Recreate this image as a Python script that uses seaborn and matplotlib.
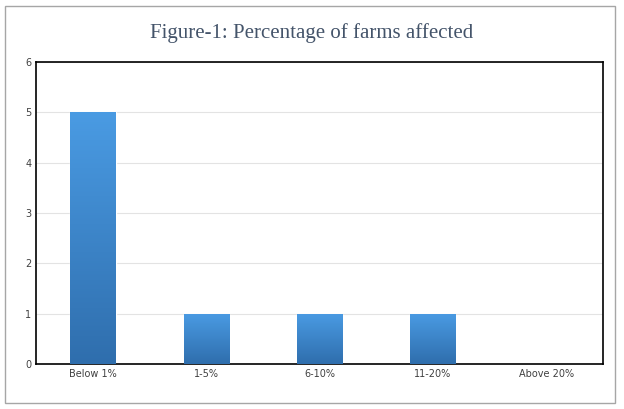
import matplotlib
matplotlib.use("Agg")
import matplotlib.pyplot as plt
import seaborn as sns
import numpy as np
import pandas as pd
from matplotlib.patches import Rectangle

categories = ["Below 1%", "1-5%", "6-10%", "11-20%", "Above 20%"]
farms = [5, 1, 1, 1, 0]

sns.set_style("white")
plt.rcParams['font.family'] = ['DejaVu Sans']

fig = plt.figure(figsize=(6.24, 4.09), dpi=100)
# outer frame
fig.patches.append(Rectangle((0.008, 0.015), 0.978, 0.97, transform=fig.transFigure,
                             fill=False, edgecolor="#a6a6a6", linewidth=1.0))
ax = fig.add_axes([0.058, 0.11, 0.908, 0.738])

df = pd.DataFrame({"cat": categories, "val": farms})
sns.barplot(data=df, x="cat", y="val", ax=ax, width=0.4, color="#3d85c6", zorder=2)

# vertical gradient for bars
grad = np.linspace(0, 1, 256).reshape(-1, 1)
cmap = matplotlib.colors.LinearSegmentedColormap.from_list("b", ["#2f6ead", "#4a9be3"])
for p in ax.patches:
    x0, y0, w, h = p.get_x(), p.get_y(), p.get_width(), p.get_height()
    if h <= 0:
        continue
    im = ax.imshow(grad, extent=[x0, x0 + w, y0, y0 + h], origin="lower",
                   cmap=cmap, aspect="auto", zorder=3)
    im.set_clip_path(p)

ax.set_xlim(-0.5, 4.5)
ax.set_ylim(0, 6)
ax.set_yticks(range(7))
ax.grid(axis="y", color="#e3e3e3", linewidth=0.8, zorder=0)
ax.set_xlabel("")
ax.set_ylabel("")
ax.tick_params(labelsize=7, colors="#404040", length=0)
for s in ax.spines.values():
    s.set_color("black")
    s.set_linewidth(1.2)

fig.text(0.5, 0.92, "Figure-1: Percentage of farms affected", ha="center", va="center",
         fontsize=15, color="#44546a", family=["Liberation Serif", "DejaVu Serif"])

fig.savefig("out.png", dpi=100)
